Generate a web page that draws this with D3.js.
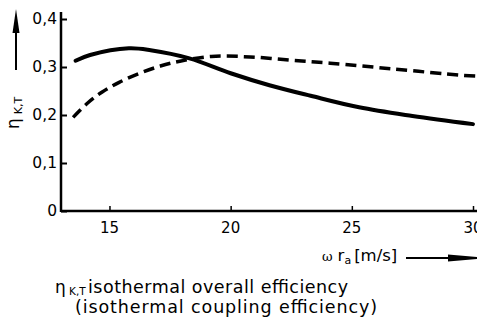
<!DOCTYPE html>
<html>
<head>
<meta charset="utf-8">
<script src="https://cdn.jsdelivr.net/npm/d3@7"></script>
<style>
  html, body { margin: 0; padding: 0; background: #fff; }
  svg { display: block; }
  text { font-family: "DejaVu Sans", "Open Sans", sans-serif; fill: #000; }
</style>
</head>
<body>
<svg id="chart" width="477" height="326"></svg>
<script>
// Peripheral speed ω·r_a [m/s] and isothermal efficiency η_K,T
const solidX = [13.6, 14.2, 15.8, 16.7, 18.3, 20.0, 21.6, 23.3, 25.3, 27.5, 30.0];
const solidY = [0.313, 0.325, 0.339, 0.335, 0.318, 0.287, 0.262, 0.240, 0.216, 0.198, 0.181];
const dashX = [13.5, 14.1, 14.7, 15.4, 16.3, 17.1, 17.9, 19.2, 20.8, 22.5, 24.1, 26.7, 29.5, 30.2];
const dashY = [0.195, 0.225, 0.248, 0.268, 0.288, 0.302, 0.312, 0.322, 0.321, 0.314, 0.308, 0.296, 0.283, 0.281];
const xTicks = [15, 20, 25, 30];
const yTicks = [0, 0.1, 0.2, 0.3, 0.4];
const yTickLabels = ["0", "0,1", "0,2", "0,3", "0,4"];

const svg = d3.select("#chart");
const x = d3.scaleLinear().domain([13, 30]).range([61, 473]);
const y = d3.scaleLinear().domain([0, 0.4]).range([211, 19]);

// axes
const xAxis = svg.append("g").attr("transform", `translate(0,${y(0)})`)
  .call(d3.axisTop(x).tickValues(xTicks).tickSize(5).tickFormat(""));
xAxis.select(".domain").attr("d", `M${x.range()[0]},0H477`).attr("stroke-width", 2.5);
xAxis.selectAll(".tick line").attr("stroke-width", 1.5);

const yAxis = svg.append("g").attr("transform", `translate(${x(13)},0)`)
  .call(d3.axisRight(y).tickValues(yTicks).tickSize(6).tickFormat(""));
yAxis.select(".domain").attr("d", `M0,12V${y(0) + 1}`).attr("stroke-width", 2.5);
yAxis.selectAll(".tick line").attr("stroke-width", 2);

// tick labels
svg.append("g").selectAll("text").data(yTicks).join("text")
  .attr("x", 57).attr("y", d => y(d) + 5)
  .attr("text-anchor", "end").attr("font-size", 15.5)
  .text((d, i) => yTickLabels[i]);

svg.append("g").selectAll("text").data(xTicks).join("text")
  .attr("x", d => x(d)).attr("y", 233)
  .attr("text-anchor", "middle").attr("font-size", 15)
  .text(d => d);

// curves
const line = d3.line().x(d => x(d[0])).y(d => y(d[1])).curve(d3.curveCatmullRom.alpha(0.5));
svg.append("path").datum(solidX.map((v, i) => [v, solidY[i]]))
  .attr("d", line).attr("fill", "none").attr("stroke", "#000")
  .attr("stroke-width", 4).attr("stroke-linecap", "round");
svg.append("path").datum(dashX.map((v, i) => [v, dashY[i]]))
  .attr("d", line).attr("fill", "none").attr("stroke", "#000")
  .attr("stroke-width", 3.5).attr("stroke-dasharray", "11,6");

// y-axis title with upward arrow
svg.append("line").attr("x1", 16).attr("x2", 16).attr("y1", 28).attr("y2", 70)
  .attr("stroke", "#000").attr("stroke-width", 2);
svg.append("path").attr("d", "M16,9 L19.5,33 L12.5,33 Z").attr("fill", "#000");
const yTitle = svg.append("text")
  .attr("transform", "translate(19,129) rotate(-90)")
  .attr("font-size", 17);
yTitle.append("tspan").text("η");
yTitle.append("tspan").attr("font-size", 11).attr("dx", 4).attr("dy", 3).text("K,T");

// x-axis title with rightward arrow
const xTitle = svg.append("text").attr("x", 322).attr("y", 261).attr("font-size", 16.5);
xTitle.append("tspan").attr("font-family", "DejaVu Serif").attr("font-size", 13).text("ω");
xTitle.append("tspan").attr("dx", 5).text("r");
xTitle.append("tspan").attr("font-size", 11).attr("dy", 3).text("a");
xTitle.append("tspan").attr("dy", -3).attr("dx", 3).text("[m/s]");
svg.append("line").attr("x1", 406).attr("x2", 450).attr("y1", 258).attr("y2", 258)
  .attr("stroke", "#000").attr("stroke-width", 2);
svg.append("path").attr("d", "M448,254.5 L477,257 L477,259 L448,261.5 Z").attr("fill", "#000");

// caption
svg.append("text").attr("x", 55).attr("y", 293).attr("font-size", 17).text("η");
svg.append("text").attr("x", 69).attr("y", 294.5).attr("font-size", 10.5).text("K,T");
svg.append("text").attr("x", 88).attr("y", 293).attr("font-size", 17.5)
  .attr("textLength", 260).attr("lengthAdjust", "spacing")
  .text("isothermal overall efficiency");
svg.append("text").attr("x", 75).attr("y", 313).attr("font-size", 17.5)
  .attr("textLength", 302).attr("lengthAdjust", "spacing")
  .text("(isothermal coupling efficiency)");
</script>
</body>
</html>
